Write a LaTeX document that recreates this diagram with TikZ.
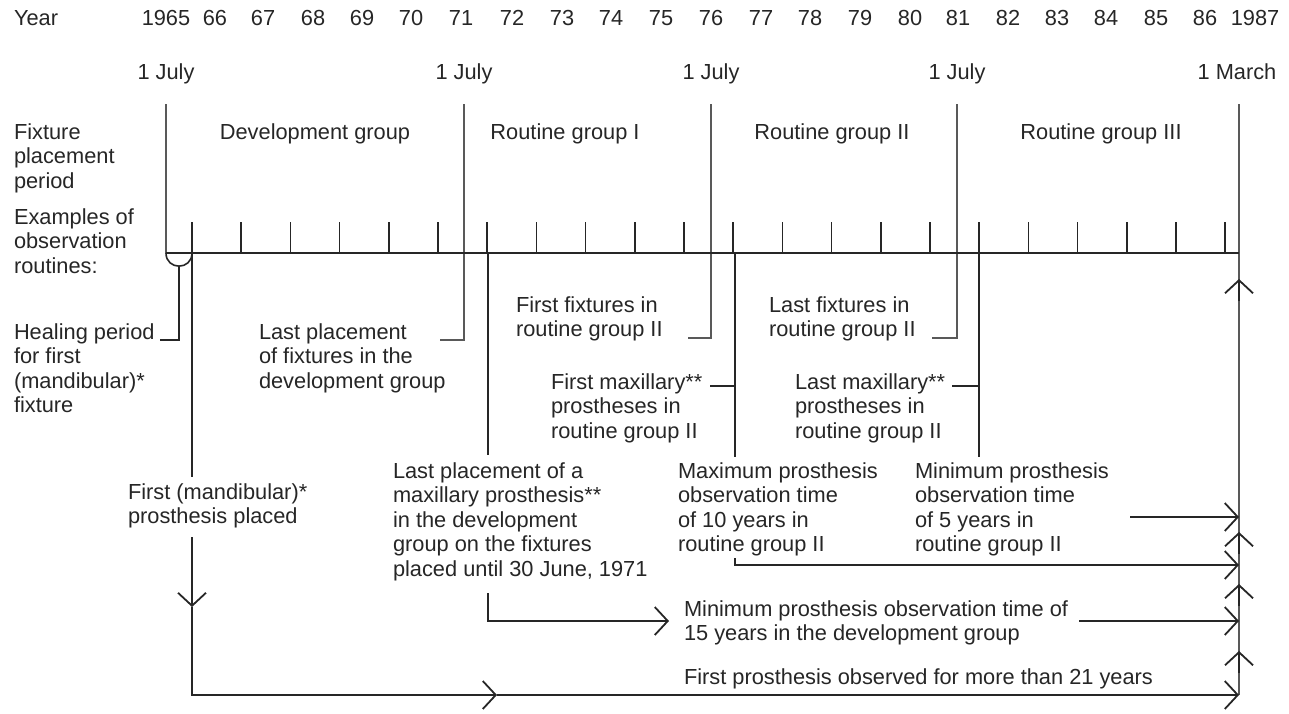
\documentclass[tikz,border=0pt]{standalone}
\usepackage{fontspec}
\setmainfont{Liberation Sans}
\usetikzlibrary{arrows.meta}
\begin{document}
\begin{tikzpicture}[x=0.5pt,y=-0.5pt,
  every node/.style={inner sep=0pt, outer sep=0pt, text=black!85, font=\fontsize{10.9}{12.3}\selectfont},
  lbl/.style={anchor=base west, align=left},
  yr/.style={anchor=base},
  ln/.style={line width=0.8pt, draw=black!85},
  dv/.style={line width=0.8pt, draw=black!65},
  barb/.style={-{Straight Barb[length=6.5pt,width=14pt,line width=0.9pt]}},
]
\useasboundingbox (0,0) rectangle (1289,713);

% ---- year row
\node[lbl] (year) at (14,25) {Year};
\foreach \t/\x [count=\i] in {1965/166,66/215,67/263,68/313,69/362,70/411,71/461,72/512,73/562,74/611,75/661,76/711,77/761,78/810,79/860,80/910,81/958,82/1008,83/1057,84/1106,85/1156,86/1205,1987/1255}
  \node[yr] (yr\i) at (\x,25) {\t};

% ---- dates
\node[yr] (d1) at (166,79) {1 July};
\node[yr] (d2) at (464,79) {1 July};
\node[yr] (d3) at (711,79) {1 July};
\node[yr] (d4) at (957,79) {1 July};
\node[yr] (d5) at (1237,79) {1 March};

% ---- row labels (anchor = baseline of last line)
\node[lbl] (fpp) at (14,188.2) {Fixture\\placement\\period};
\node[lbl] (eor) at (14,273.2) {Examples of\\observation\\routines:};

% ---- group labels
\node[yr] (gdev) at (315,139) {Development group};
\node[yr] (gr1) at (565,139) {Routine group I};
\node[yr] (gr2) at (832,139) {Routine group II};
\node[yr] (gr3) at (1101,139) {Routine group III};

% ---- coordinates
\coordinate (v1t) at (166,104); \coordinate (v1b) at (166,253);
\coordinate (v2t) at (464,104); \coordinate (v2b) at (464,340);
\coordinate (v3t) at (711,104); \coordinate (v3b) at (711,338);
\coordinate (v4t) at (957,104); \coordinate (v4b) at (957,338);
\coordinate (v5t) at (1239,104); \coordinate (v5b) at (1239,695);

% ---- dividers
\draw[dv] (v1t) -- (v1b);
\draw[dv] (v2t) -- (v2b) -- (440,340);
\draw[dv] (v3t) -- (v3b) -- (688,338);
\draw[dv] (v4t) -- (v4b) -- (932,338);
\draw[dv] (v5t) -- (v5b);

% ---- axis and ticks
\draw[ln] (v1b) -- (1239,253);
\foreach \k in {0,...,21}
  \draw[ln] ({192+49.2*\k},222) -- ({192+49.2*\k},253);

% ---- healing period
\draw[ln] (v1b) .. controls (166,270.5) and (192,270.5) .. (192,253);
\node[lbl] (heal) at (14,412.8) {Healing period\\for first\\(mandibular)*\\fixture};
\draw[ln] (179,266) -- (179,340) -- (160,340);

% ---- other labels
\node[lbl] (lpf) at (259,388.2) {Last placement\\of fixtures in the\\development group};
\node[lbl] (ffr) at (516,336.6) {First fixtures in\\routine group II};
\node[lbl] (lfr) at (769,336.6) {Last fixtures in\\routine group II};
\node[lbl] (fmx) at (551,438.2) {First maxillary**\\prostheses in\\routine group II};
\node[lbl] (lmx) at (795,438.2) {Last maxillary**\\prostheses in\\routine group II};
\node[lbl] (lpm) at (393,576.4) {Last placement of a\\maxillary prosthesis**\\in the development\\group on the fixtures\\placed until 30 June, 1971};
\node[lbl] (fmp) at (128,523.6) {First (mandibular)*\\prosthesis placed};
\node[lbl] (max10) at (678,551.8) {Maximum prosthesis\\observation time\\of 10 years in\\routine group II};
\node[lbl] (min5) at (915,551.8) {Minimum prosthesis\\observation time\\of 5 years in\\routine group II};
\node[lbl] (min15) at (684,640.6) {Minimum prosthesis observation time of\\15 years in the development group};
\node[lbl] (first21) at (684,684) {First prosthesis observed for more than 21 years};

% ---- 1977 line (first maxillary / 10 years)
\draw[ln] (735,253) -- (735,457);
\draw[ln] (710,386) -- (735,386);
\draw[ln,barb] (735,558) -- (735,565) -- (1239,565);

% ---- 1982 line (last maxillary / 5 years)
\draw[ln] (979,253) -- (979,457);
\draw[ln] (952,386) -- (979,386);
\draw[ln,barb] (1130,517) -- (1239,517);

% ---- 1972 line (last maxillary prosthesis / 15 years)
\draw[ln] (488,253) -- (488,455);
\draw[ln,barb] (488,593) -- (488,621) -- (669,621);
\draw[ln,barb] (1079,621) -- (1239,621);

% ---- first prosthesis line
\draw[ln] (192,253) -- (192,477);
\draw[ln,barb] (192,537) -- (192,607);
\draw[ln,barb] (192,607) -- (192,695) -- (497,695);
\draw[ln,barb] (497,695) -- (1239,695);

% ---- carets on the 1 March 1987 line
\foreach \yy in {279,532,584,651}
  \draw[ln,barb] (1239,\yy+22) -- (1239,\yy);

\end{tikzpicture}
\end{document}
